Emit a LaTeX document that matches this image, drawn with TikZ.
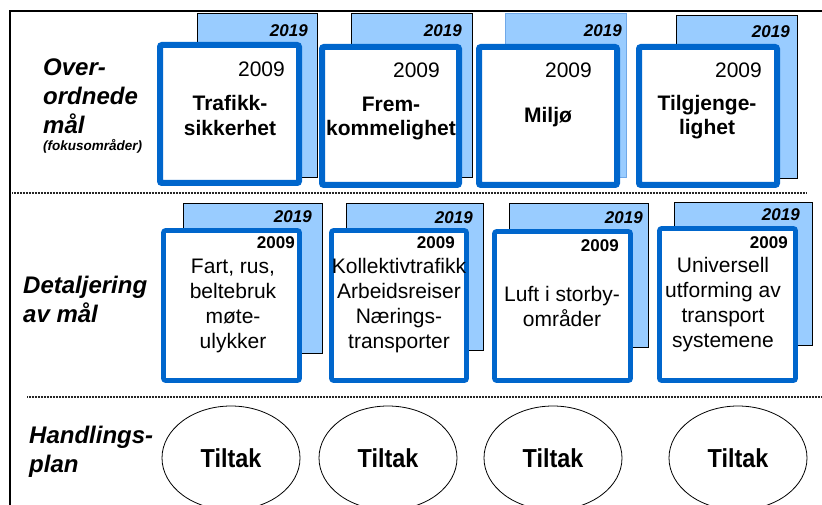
\documentclass[tikz,border=0pt]{standalone}
\usepackage{fontspec}
\setmainfont{Liberation Sans}
\usetikzlibrary{shapes.geometric}
\definecolor{lb}{HTML}{99CCFF}
\definecolor{db}{HTML}{0066CC}
\definecolor{mb}{HTML}{6FA8E8}
\newcommand\fYearBI{\fontsize{17}{20}\selectfont\bfseries\itshape}
\newcommand\fYearR{\fontsize{21}{24}\selectfont}
\newcommand\fYearB{\fontsize{17}{20}\selectfont\bfseries}
\newcommand\fTopT{\fontsize{21}{24.5}\selectfont\bfseries}
\newcommand\fMidT{\fontsize{21}{25}\selectfont}
\newcommand\fLab{\fontsize{24}{29}\selectfont\bfseries\itshape}
\newcommand\fSub{\fontsize{13.5}{16}\selectfont\bfseries\itshape}
\newcommand\narrowtxt[1]{\scalebox{0.9}[1]{#1}}
\begin{document}
\begin{tikzpicture}[x=1pt,y=-1pt,
  backbox/.style={draw=black,line width=0.8pt,fill=lb,inner sep=0pt},
  fronttop/.style={draw=db,line width=6pt,fill=white,rounded corners=2pt,inner sep=0pt},
  frontmid/.style={draw=db,line width=4.6pt,fill=white,rounded corners=2pt,inner sep=0pt},
  oval/.style={draw=black,line width=0.8pt,ellipse,inner sep=0pt,minimum width=138pt,minimum height=104pt,font=\fontsize{26}{30}\selectfont\bfseries},
  sep/.style={draw=black!85,line width=1.8pt,dash pattern=on 1pt off 0.5pt},
  frame/.style={draw=black,line width=2pt},
  txt/.style={inner sep=0pt,align=center},
  lab/.style={inner sep=0pt,align=left,anchor=west}
]
\useasboundingbox (0,0) rectangle (822,505);
% frame
\coordinate (tl) at (10,11);
\coordinate (tr) at (822,11);
\coordinate (bl) at (10,505);
\draw[frame] (tr) -- (tl) -- (bl);
% separators
\coordinate (s1a) at (12,193);
\coordinate (s1b) at (807,193);
\coordinate (s2a) at (27,397);
\coordinate (s2b) at (822,397);
\draw[sep] (s1a) -- (s1b);
\draw[sep] (s2a) -- (s2b);

% left labels
\node[lab,font=\fLab] (l1) at (43,96) {Over-\\ordnede\\mål};
\node[lab,font=\fSub] (l1s) at (43,146) {(fokusområder)};
\node[lab,font=\fLab] (l2) at (23,299) {Detaljering\\av mål};
\node[lab,font=\fLab] (l3) at (29,451.5) {Handlings-\\plan};

% row 1 back boxes
\node[backbox,minimum width=120pt,minimum height=164pt] (b1) at (257,95) {};
\node[backbox,minimum width=121pt,minimum height=164pt] (b2) at (411.5,95) {};
\node[backbox,draw=mb,minimum width=121pt,minimum height=164pt] (b3) at (565.5,95) {};
\node[backbox,minimum width=121pt,minimum height=163pt] (b4) at (736.5,96.5) {};
\node[anchor=east,inner sep=0pt,font=\fYearBI] (y1) at (308,31) {2019};
\node[anchor=east,inner sep=0pt,font=\fYearBI] (y2) at (462,31) {2019};
\node[anchor=east,inner sep=0pt,font=\fYearBI] (y3) at (622,31) {2019};
\node[anchor=east,inner sep=0pt,font=\fYearBI] (y4) at (790,32) {2019};
% row 1 front boxes
\node[fronttop,minimum width=139pt,minimum height=138pt] (f1) at (229.5,114) {};
\node[fronttop,minimum width=137pt,minimum height=138pt] (f2) at (390.5,116) {};
\node[fronttop,minimum width=138pt,minimum height=138pt] (f3) at (548,116) {};
\node[fronttop,minimum width=138pt,minimum height=138pt] (f4) at (708,116) {};
\node[anchor=east,inner sep=0pt,font=\fYearR] (z1) at (285,69) {2009};
\node[anchor=east,inner sep=0pt,font=\fYearR] (z2) at (440,70) {2009};
\node[anchor=east,inner sep=0pt,font=\fYearR] (z3) at (592,70) {2009};
\node[anchor=east,inner sep=0pt,font=\fYearR] (z4) at (762,70) {2009};
\node[txt,font=\fTopT] (t1) at (230,115.5) {Trafikk-\\sikkerhet};
\node[txt,font=\fTopT] (t2) at (391,118.5) {Frem-\\kommelighet};
\node[txt,font=\fTopT] (t3) at (548,117) {Miljø};
\node[txt,font=\fTopT] (t4) at (707,117) {Tilgjenge-\\lighet};

% row 2 back boxes
\node[backbox,minimum width=139pt,minimum height=150pt] (c1) at (252.5,278) {};
\node[backbox,minimum width=137pt,minimum height=147pt] (c2) at (414.5,276.5) {};
\node[backbox,minimum width=139pt,minimum height=144pt] (c3) at (578.5,275) {};
\node[backbox,minimum width=138pt,minimum height=143pt] (c4) at (743,273.5) {};
\node[anchor=east,inner sep=0pt,font=\fYearBI] (w1) at (312,217) {2019};
\node[anchor=east,inner sep=0pt,font=\fYearBI] (w2) at (473,218) {2019};
\node[anchor=east,inner sep=0pt,font=\fYearBI] (w3) at (643,218) {2019};
\node[anchor=east,inner sep=0pt,font=\fYearBI] (w4) at (800,215) {2019};
% row 2 front boxes
\node[frontmid,minimum width=136pt,minimum height=150pt] (g1) at (231.5,305.5) {};
\node[frontmid,minimum width=135pt,minimum height=150pt] (g2) at (399,305.5) {};
\node[frontmid,minimum width=136pt,minimum height=149pt] (g3) at (562.5,306) {};
\node[frontmid,minimum width=136pt,minimum height=152pt] (g4) at (727.5,304.5) {};
\node[anchor=east,inner sep=0pt,font=\fYearB] (v1) at (295,243) {2009};
\node[anchor=east,inner sep=0pt,font=\fYearB] (v2) at (455,243) {2009};
\node[anchor=east,inner sep=0pt,font=\fYearB] (v3) at (619,246) {2009};
\node[anchor=east,inner sep=0pt,font=\fYearB] (v4) at (788,243) {2009};
\node[txt,font=\fMidT] (u1) at (233,305.75) {Fart, rus,\\beltebruk\\møte-\\ulykker};
\node[txt,font=\fMidT] (u2) at (399,305.75) {Kollektivtrafikk\\Arbeidsreiser\\Nærings-\\transporter};
\node[txt,font=\fMidT] (u3) at (562,306.5) {Luft i storby-\\områder};
\node[txt,font=\fMidT] (u4) at (723,305) {Universell\\utforming av\\transport\\systemene};

% row 3 ellipses
\node[oval] (e1) at (231,458) {\narrowtxt{Tiltak}};
\node[oval] (e2) at (388,458) {\narrowtxt{Tiltak}};
\node[oval] (e3) at (553,458) {\narrowtxt{Tiltak}};
\node[oval] (e4) at (738,458) {\narrowtxt{Tiltak}};
\end{tikzpicture}
\end{document}
